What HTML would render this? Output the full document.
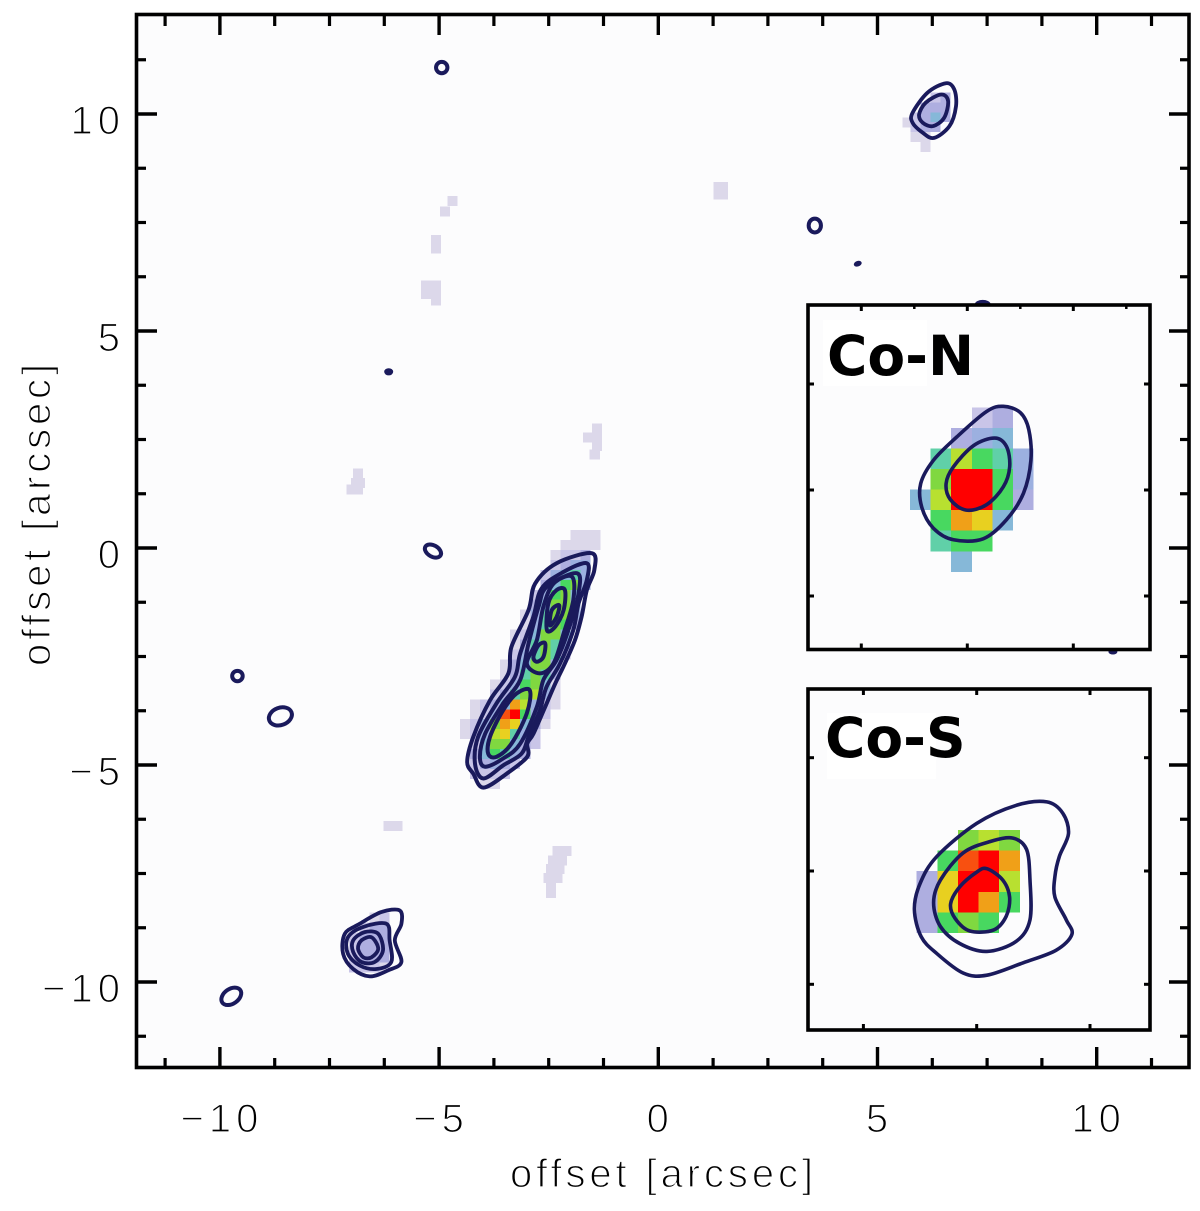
<!DOCTYPE html>
<html>
<head>
<meta charset="utf-8">
<title>Offset map with contours</title>
<style>
html,body{margin:0;padding:0;background:#fff;}
svg{display:block;}
.lbl{font-family:"Liberation Sans",sans-serif;fill:#000;stroke:#fff;stroke-width:1.3px;}
.inset-title{font-family:"DejaVu Sans",sans-serif;font-weight:bold;font-size:55px;fill:#000;}
</style>
</head>
<body>
<svg id="chart" xmlns="http://www.w3.org/2000/svg" width="1200" height="1211" viewBox="0 0 1200 1211"></svg>
<script>
// ---- axis data ----
const xMajorTicks = [-10, -5, 0, 5, 10];
const yMajorTicks = [-10, -5, 0, 5, 10];
const minorTicks = [-11.25, -8.75, -7.5, -6.25, -3.75, -2.5, -1.25, 1.25, 2.5, 3.75, 6.25, 7.5, 8.75, 11.25];
const tickLabels = ["\u221210", "\u22125", "0", "5", "10"];

// ---- jet heatmap (row = start column + values) ----
const jetStarts = [11, 10, 9, 9, 8, 8, 7, 7, 6, 6, 5, 5, 5, 4, 4, 3, 3, 1, 1, 0, 0, 1, 1, 1, 1, 2];
const jetValues = [
  [.08, .08, .08],
  [.08, .08, .08, .08],
  [.08, .1, .1, .13],
  [.12, .15, .22, .2],
  [.12, .2, .28, .35, .2],
  [.15, .25, .45, .5, .2],
  [.12, .22, .45, .55, .25],
  [.15, .3, .55, .5, .2],
  [.08, .2, .35, .55, .5, .2],
  [.08, .2, .4, .55, .45, .15],
  [.08, .12, .3, .5, .5, .25],
  [.08, .15, .35, .5, .4, .2],
  [.12, .2, .4, .5, .35, .12],
  [.08, .15, .3, .5, .5, .2],
  [.08, .15, .35, .5, .4, .15],
  [.08, .12, .2, .45, .5, .3, .08],
  [.1, .15, .35, .55, .6, .2, .08],
  [.08, .1, .15, .3, .85, .6, .2, .1, .08],
  [.08, .12, .2, .9, 1, .45, .2, .1],
  [.08, .1, .18, .55, .8, .68, .25, .15, .08],
  [.08, .12, .2, .65, .7, .35, .2, .1],
  [.12, .25, .55, .55, .3, .15, .1],
  [.13, .25, .48, .35, .2, .13],
  [.1, .15, .18, .15, .1],
  [.1, .1, .1, .1],
  [.08, .08]
];

// ---- compact sources ----
const swStarts = [2, 1, 0, 0, 0, 0];
const swValues = [
  [.08, .1],
  [.1, .13, .13],
  [.1, .13, .15, .13],
  [.1, .13, .15, .13],
  [.1, .13, .15, .13],
  [.1, .1, .1, .08]
];
const neStarts = [2, 1, 0, 0, 0, 1];
const neValues = [
  [.1, .13],
  [.13, .15, .15],
  [.1, .13, .24, .13],
  [.1, .13, .13],
  [.08, .08],
  [.08]
];

// ---- isolated faint pixels ----
const paleX = [1.37, 1.47, 1.37, 1.47, -4.69, -4.87, -5.07, -5.07, -5.3, -5.07, -5.3, -5.07, -5.07, -6.85, -6.9, -6.8, -7.0, -6.85, -1.4, -1.4, -1.6, -1.4, -1.45, -6.15, -5.95, -2.3, -2.1, -2.4, -2.2, -2.45, -2.25, -2.5, -2.3, -2.45, -2.45, 5.69];
const paleY = [8.32, 8.32, 8.15, 8.15, 8.0, 7.75, 7.1, 6.9, 6.05, 6.05, 5.85, 5.85, 5.7, 1.72, 1.5, 1.5, 1.35, 1.35, 2.75, 2.55, 2.55, 2.35, 2.15, -6.4, -6.4, -6.98, -6.98, -7.2, -7.2, -7.4, -7.4, -7.6, -7.6, -7.8, -7.95, 9.8];

// ---- main contours (x,y in arcsec) ----
const jetLevel1 = [[-1.52,-.12],[-1.46,-.51],[-1.63,-.97],[-1.75,-1.58],[-1.90,-2.12],[-2.13,-2.66],[-2.35,-3.12],[-2.58,-3.66],[-2.85,-4.28],[-2.99,-4.51],[-2.99,-4.81],[-3.46,-5.20],[-3.99,-5.52],[-4.22,-5.20],[-4.36,-4.93],[-4.22,-4.35],[-3.84,-3.51],[-3.42,-2.89],[-3.35,-2.28],[-2.96,-1.43],[-2.81,-.82],[-2.32,-.35]];
const jetLevel2 = [[-1.63,-.35],[-1.63,-.74],[-1.82,-1.28],[-1.94,-1.89],[-2.24,-2.66],[-2.55,-3.20],[-2.70,-3.74],[-2.96,-4.35],[-3.12,-4.74],[-3.54,-5.01],[-3.99,-5.31],[-4.18,-4.97],[-4.11,-4.35],[-3.69,-3.58],[-3.27,-2.97],[-3.15,-2.43],[-2.85,-1.58],[-2.66,-.93],[-2.16,-.55]];
const jetLevel3 = [[-1.86,-.58],[-1.82,-1.05],[-2.05,-1.89],[-2.32,-2.58],[-2.62,-3.04],[-2.77,-3.66],[-3.15,-4.51],[-3.54,-4.85],[-3.95,-5.04],[-4.07,-4.81],[-3.95,-4.28],[-3.54,-3.58],[-3.15,-3.04],[-2.96,-2.20],[-2.73,-1.35],[-2.54,-.89]];
const jetLevel4a = [[-1.97,-.66],[-1.94,-1.20],[-2.16,-1.97],[-2.39,-2.66],[-2.70,-2.89],[-3.00,-2.66],[-2.77,-2.12],[-2.62,-1.35],[-2.39,-.82]];
const jetLevel4b = [[-2.93,-3.28],[-3.00,-3.81],[-3.35,-4.51],[-3.69,-4.81],[-3.88,-4.74],[-3.84,-4.35],[-3.54,-3.74],[-3.23,-3.35]];
const jetLevel5a = [[-2.13,-.97],[-2.16,-1.43],[-2.35,-1.81],[-2.54,-1.89],[-2.51,-1.28],[-2.32,-.97]];
const jetLevel5b = [[-2.58,-2.20],[-2.62,-2.51],[-2.77,-2.62],[-2.85,-2.51],[-2.73,-2.24]];
const jetLevel6 = [[-2.26,-1.32],[-2.32,-1.59],[-2.47,-1.78],[-2.43,-1.43]];
const neLevel1 = [[6.56,10.71],[6.75,10.57],[6.79,10.18],[6.64,9.72],[6.29,9.45],[6.03,9.57],[5.80,9.80],[5.80,10.03],[6.14,10.49]];
const neLevel2 = [[6.45,10.45],[6.61,10.30],[6.52,9.91],[6.26,9.72],[6.03,9.80],[5.95,9.99],[6.10,10.26]];
const swLevel1 = [[-6.32,-8.39],[-5.90,-8.35],[-5.86,-8.66],[-6.01,-9.04],[-5.86,-9.54],[-6.16,-9.73],[-6.58,-9.87],[-6.96,-9.70],[-7.19,-9.35],[-7.15,-8.89],[-6.81,-8.66]];
const swLevel2 = [[-6.73,-8.73],[-6.2,-8.66],[-6.13,-9.04],[-6.09,-9.54],[-6.43,-9.70],[-6.81,-9.62],[-7.08,-9.35],[-7.08,-8.97]];
const swLevel3 = [[-6.39,-8.89],[-6.28,-9.27],[-6.47,-9.54],[-6.77,-9.54],[-6.96,-9.31],[-6.96,-9.04],[-6.70,-8.85]];
const swLevel4 = [[-6.39,-9.23],[-6.54,-9.43],[-6.73,-9.43],[-6.85,-9.23],[-6.77,-9.04],[-6.54,-8.97]];

// ---- small isolated contour rings ----
const ringCx = [-4.94, 3.57, 4.55, 7.4, -6.15, -5.14, -9.6, -8.62, -9.74, 10.37];
const ringCy = [11.07, 7.43, 6.55, 5.6, 4.06, -.07, -2.95, -3.88, -10.33, -2.39];
const ringRx = [.13, .14, .07, .14, .08, .2, .12, .27, .25, .08];
const ringRy = [.13, .16, .04, .07, .06, .13, .12, .2, .17, .04];
const ringTilt = [0, 0, -20, 0, 0, 30, 0, -20, -35, 0];

// ---- Co-N inset ----
const coNRows = [
  [null, null, null, .1, .15],
  [null, null, .13, .2, .26],
  [null, .36, .65, .45, .36, .22],
  [null, .55, 1, 1, .45, .22],
  [.3, .65, 1, 1, .45, .15],
  [null, .45, .82, .72, .3],
  [null, .36, .45, .45],
  [null, null, .28]
];
const coNOuter = [[.34,.79],[.50,.73],[.58,.57],[.60,.28],[.53,-.03],[.37,-.28],[.15,-.46],[-.13,-.47],[-.32,-.36],[-.43,-.16],[-.44,.06],[-.32,.28],[-.10,.50],[.18,.74]];
const coNInner = [[.26,.49],[.37,.41],[.40,.22],[.34,.03],[.18,-.14],[-.01,-.19],[-.16,-.09],[-.20,.06],[-.13,.22],[.06,.42]];
const coNXTicks = [-1, 0, 1];
const coNYTicks = [-1, 0, 1];
const coNTopMinorTicks = [-.5, .5, 1.5];

// ---- Co-S inset ----
const coSRows = [
  [null, null, .55, .65, .5],
  [null, .45, .9, 1, .8],
  [.15, .72, 1, 1, .65],
  [.15, .72, .97, .8, .45],
  [.15, .45, .58, .45]
];
const coSOuter = [[.62,.61],[.76,.51],[.81,.33],[.73,.13],[.69,-.05],[.69,-.23],[.79,-.43],[.84,-.56],[.70,-.70],[.41,-.81],[.09,-.92],[-.12,-.90],[-.35,-.73],[-.49,-.58],[-.55,-.34],[-.50,-.11],[-.35,.13],[0,.42],[.35,.58]];
const coSMiddle = [[.32,.29],[.44,.19],[.47,-.08],[.47,-.43],[.35,-.62],[.09,-.71],[-.15,-.64],[-.32,-.49],[-.38,-.28],[-.32,-.08],[-.12,.16],[.12,.26]];
const coSInner = [[.09,.02],[.23,-.08],[.29,-.23],[.26,-.40],[.15,-.52],[-.06,-.53],[-.19,-.42],[-.23,-.29],[-.15,-.14],[0,-.01]];
const coSXTicks = [-1, 0, 1];
const coSYTicks = [-1, 0, 1];
const coSTopMinorTicks = [];

// ---- axis functions ----
const X = v => 658.3 + v * 43.84;
const Y = v => 548 - v * 43.4;
const NX = v => 967.3 + v * 106;
const NY = v => 490 - v * 106;
const SX = v => 976.7 + v * 113.3;
const SY = v => 871 - v * 113.3;

const svg = document.getElementById('chart');
const NS = 'http://www.w3.org/2000/svg';
function make(tag, attrs, parent) {
  const el = document.createElementNS(NS, tag);
  for (const k in attrs) el.setAttribute(k, attrs[k]);
  (parent || svg).appendChild(el);
  return el;
}
function colorFor(v) {
  if (v < .1) return '#dcd8ea';
  if (v < .13) return '#c9c5e8';
  if (v < .18) return '#aeaee0';
  if (v < .24) return '#9cb0e0';
  if (v < .32) return '#86b8d8';
  if (v < .42) return '#60d0a8';
  if (v < .5) return '#48d860';
  if (v < .6) return '#80d840';
  if (v < .68) return '#b8e030';
  if (v < .76) return '#e8d020';
  if (v < .86) return '#f0a018';
  if (v < .95) return '#f85010';
  return '#ff0000';
}
function drawGrid(parent, fx, fy, x0, y0, cell, starts, rows, name) {
  rows.forEach((row, r) => {
    row.forEach((v, c) => {
      if (v === null) return;
      const col = (starts ? starts[r] : 0) + c;
      const left = fx(x0 + col * cell), right = fx(x0 + (col + 1) * cell);
      const top = fy(y0 - r * cell), bottom = fy(y0 - (r + 1) * cell);
      const el = make('rect', {x: left, y: top, width: right - left, height: bottom - top, fill: colorFor(v), 'shape-rendering': 'crispEdges'}, parent);
      
      
    });
  });
}
function smoothPath(pts, fx, fy) {
  const p = pts.map(q => [fx(q[0]), fy(q[1])]);
  const n = p.length;
  let d = 'M' + p[0][0].toFixed(1) + ' ' + p[0][1].toFixed(1);
  for (let i = 0; i < n; i++) {
    const a = p[(i - 1 + n) % n], b = p[i], c = p[(i + 1) % n], e = p[(i + 2) % n];
    const c1x = b[0] + (c[0] - a[0]) / 6, c1y = b[1] + (c[1] - a[1]) / 6;
    const c2x = c[0] - (e[0] - b[0]) / 6, c2y = c[1] - (e[1] - b[1]) / 6;
    d += 'C' + c1x.toFixed(1) + ' ' + c1y.toFixed(1) + ' ' + c2x.toFixed(1) + ' ' + c2y.toFixed(1) + ' ' + c[0].toFixed(1) + ' ' + c[1].toFixed(1);
  }
  return d + 'Z';
}
function drawContour(parent, pts, fx, fy, width, name) {
  const el = make('path', {d: smoothPath(pts, fx, fy), fill: 'none', stroke: '#1a1a5c', 'stroke-width': width, 'stroke-linejoin': 'round'}, parent);
  
  
}

// plot background
const plotBg = make('rect', {x: 136.5, y: 14.5, width: 1052.5, height: 1053, fill: '#fcfcfd'});



// heatmap
const heat = make('g', {});


paleX.forEach((px, i) => {
  const el = make('rect', {x: X(px - .115), y: Y(paleY[i] + .115), width: X(.23) - X(0), height: Y(0) - Y(.23), fill: colorFor(.08), 'shape-rendering': 'crispEdges'}, heat);
  
  
});
drawGrid(heat, X, Y, -4.526, .415, .2295, jetStarts, jetValues, 'jet-pixel');
drawGrid(heat, X, Y, -7.05, -8.4, .23, swStarts, swValues, 'southwest-source-pixel');
drawGrid(heat, X, Y, 5.75, 10.5, .23, neStarts, neValues, 'northeast-source-pixel');

// contours
const contours = make('g', {});


[jetLevel1, jetLevel2, jetLevel3, jetLevel4a, jetLevel4b, jetLevel5a, jetLevel5b, jetLevel6].forEach(c => drawContour(contours, c, X, Y, 4, 'jet-contour'));
[neLevel1, neLevel2].forEach(c => drawContour(contours, c, X, Y, 3.8, 'northeast-contour'));
[swLevel1, swLevel2, swLevel3, swLevel4].forEach(c => drawContour(contours, c, X, Y, 3.8, 'southwest-contour'));
ringCx.forEach((cx, i) => {
  const filled = ringRx[i] < .1;
  const el = make('ellipse', {cx: X(cx), cy: Y(ringCy[i]), rx: X(ringRx[i]) - X(0), ry: Y(0) - Y(ringRy[i]), fill: filled ? '#1a1a5c' : 'none', stroke: '#1a1a5c', 'stroke-width': filled ? 2 : 4, transform: 'rotate(' + ringTilt[i] + ' ' + X(cx) + ' ' + Y(ringCy[i]) + ')'}, contours);
  
  
});

// main axes
const axes = make('g', {stroke: '#000', fill: 'none'});


xMajorTicks.forEach(v => {
  const a = make('line', {x1: X(v), x2: X(v), y1: 1067, y2: 1047, 'stroke-width': 3.4}, axes);
  
  
  const b = make('line', {x1: X(v), x2: X(v), y1: 15, y2: 35, 'stroke-width': 3.4}, axes);
  
  
});
minorTicks.forEach(v => {
  const a = make('line', {x1: X(v), x2: X(v), y1: 1067, y2: 1058, 'stroke-width': 3.2}, axes);
  
  
  const b = make('line', {x1: X(v), x2: X(v), y1: 15, y2: 26, 'stroke-width': 3.2}, axes);
  
  
  const c = make('line', {x1: 137, x2: 146, y1: Y(v), y2: Y(v), 'stroke-width': 3.2}, axes);
  
  
  const d = make('line', {x1: 1189, x2: 1180, y1: Y(v), y2: Y(v), 'stroke-width': 3.2}, axes);
  
  
});
yMajorTicks.forEach(v => {
  const a = make('line', {x1: 137, x2: 157, y1: Y(v), y2: Y(v), 'stroke-width': 3.4}, axes);
  
  
  const b = make('line', {x1: 1189, x2: 1169, y1: Y(v), y2: Y(v), 'stroke-width': 3.4}, axes);
  
  
});
const frame = make('rect', {x: 136.5, y: 14.5, width: 1052.5, height: 1053, 'stroke-width': 3.6}, axes);



// tick labels
xMajorTicks.forEach((v, i) => {
  const t = make('text', {class: 'lbl', x: X(v) + 2, y: 1132, 'font-size': 40, 'text-anchor': 'middle', 'letter-spacing': 5});
  t.textContent = tickLabels[i];
  
  
});
yMajorTicks.forEach((v, i) => {
  const t = make('text', {class: 'lbl', x: 125, y: Y(v) + 20, 'font-size': 40, 'text-anchor': 'end', 'letter-spacing': 5});
  t.textContent = tickLabels[i];
  
  
});

// axis titles
const xTitle = make('text', {class: 'lbl', x: 510, y: 1187, 'font-size': 40, textLength: 303, lengthAdjust: 'spacing'});
xTitle.textContent = 'offset [arcsec]';


const yTitle = make('text', {class: 'lbl', x: 0, y: 0, 'font-size': 40, textLength: 302, lengthAdjust: 'spacing', transform: 'translate(50 666) rotate(-90)'});
yTitle.textContent = 'offset [arcsec]';



// insets
function drawInset(name, top, bottom, fx, fy, x0, y0, cell, rows, lines, xt, yt, topMinor, label, labelX, labelY, box) {
  const g = make('g', {});
  
  
  const bg = make('rect', {x: 808, y: top, width: 342, height: bottom - top, fill: '#fcfcfd'}, g);
  
  
  const lb = make('rect', {x: box[0], y: box[1], width: box[2], height: box[3], fill: '#fff'}, g);
  
  
  drawGrid(g, fx, fy, x0, y0, cell, null, rows, 'inset-pixel');
  lines.forEach(c => drawContour(g, c, fx, fy, 3.6, 'inset-contour'));
  xt.forEach(v => {
    const a = make('line', {x1: fx(v), x2: fx(v), y1: top, y2: top + 6, stroke: '#000', 'stroke-width': 3}, g);
    
    
    const b = make('line', {x1: fx(v), x2: fx(v), y1: bottom, y2: bottom - 6, stroke: '#000', 'stroke-width': 3}, g);
    
    
  });
  topMinor.forEach(v => {
    const a = make('line', {x1: fx(v), x2: fx(v), y1: top, y2: top + 4, stroke: '#000', 'stroke-width': 2.5}, g);
    
    
  });
  yt.forEach(v => {
    const a = make('line', {x1: 808, x2: 814, y1: fy(v), y2: fy(v), stroke: '#000', 'stroke-width': 3}, g);
    
    
    const b = make('line', {x1: 1150, x2: 1144, y1: fy(v), y2: fy(v), stroke: '#000', 'stroke-width': 3}, g);
    
    
  });
  const f = make('rect', {x: 808, y: top, width: 342, height: bottom - top, fill: 'none', stroke: '#000', 'stroke-width': 3.6}, g);
  
  
  const t = make('text', {class: 'inset-title', x: labelX, y: labelY}, g);
  t.textContent = label;
  
  
}
drawInset('co-n-inset', 305, 649.5, NX, NY, -.54, .78, .194, coNRows, [coNOuter, coNInner], coNXTicks, coNYTicks, coNTopMinorTicks, 'Co-N', 827, 375, [823, 320, 104, 66]);
drawInset('co-s-inset', 689, 1030, SX, SY, -.53, .362, .182, coSRows, [coSOuter, coSMiddle, coSInner], coSXTicks, coSYTicks, coSTopMinorTicks, 'Co-S', 825, 757, [827, 713, 109, 66]);
</script>
</body>
</html>
